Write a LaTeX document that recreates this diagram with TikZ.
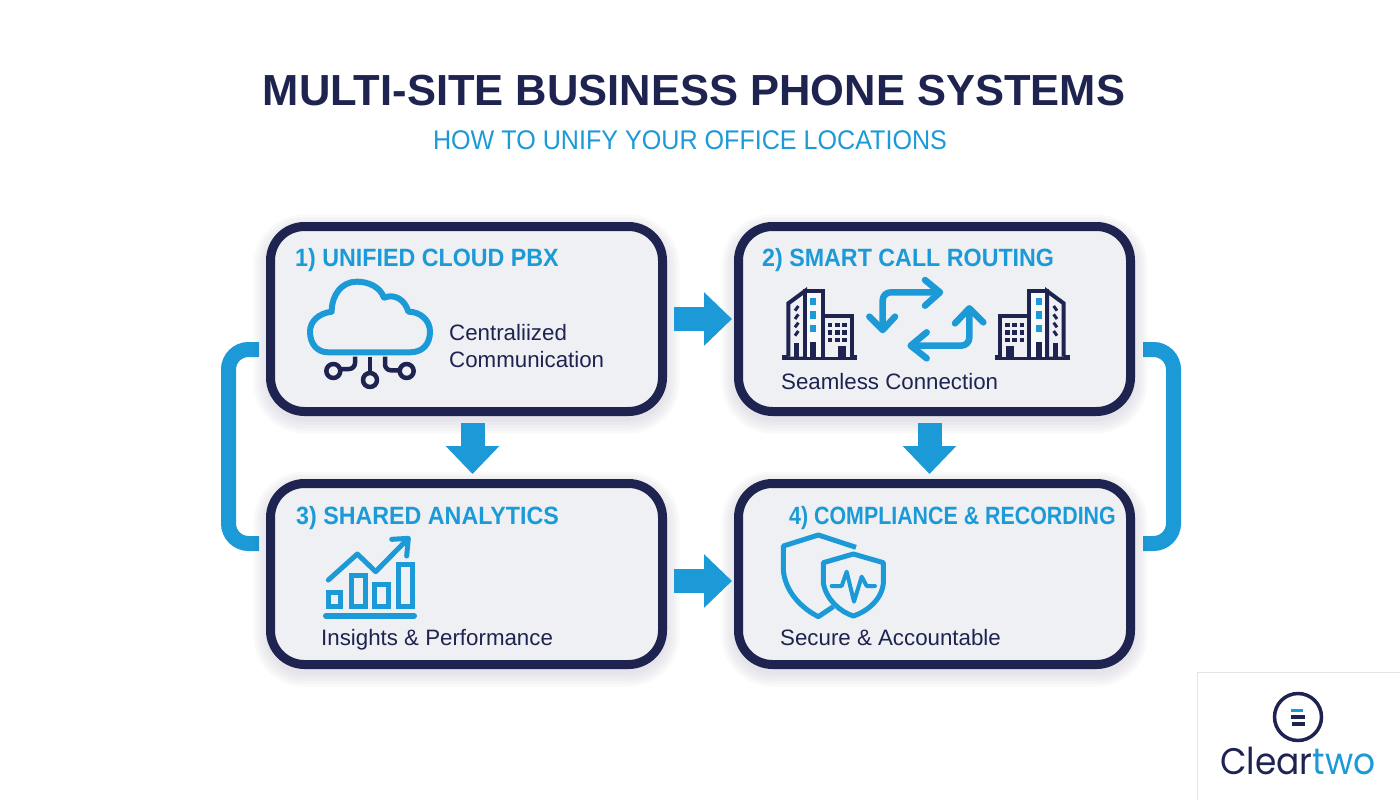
\documentclass[tikz,border=0pt]{standalone}
\usepackage{fontspec}
\setmainfont{Liberation Sans}
\newfontfamily\headfont[FakeStretch=0.93]{Liberation Sans}
\newfontfamily\tightfont[FakeStretch=0.855]{Liberation Sans}
\newfontfamily\logofont[FakeStretch=0.93]{Poppins}
\usetikzlibrary{arrows.meta}
\definecolor{navy}{HTML}{1F2350}
\definecolor{skyblue}{HTML}{1C9AD8}
\definecolor{panelgrey}{HTML}{EEF0F3}
\tikzstyle{glow} = [preaction={draw=navy, draw opacity=.022, line width=#1, transform canvas={yshift=-5pt}}]
\tikzstyle{panel} = [rectangle, rounded corners=34pt, minimum width=392pt, minimum height=185pt, draw=navy, line width=9pt, fill=panelgrey, glow=34pt, glow=28pt, glow=22pt, glow=16pt, glow=10pt]
\tikzstyle{heading} = [anchor=base west, inner sep=0pt, text=skyblue, font=\headfont\bfseries\fontsize{25}{30}\selectfont]
\tikzstyle{caption} = [anchor=base west, inner sep=0pt, text=navy, font=\fontsize{22.3}{27}\selectfont]
\tikzstyle{arrow} = [-{Triangle[length=28pt, width=52pt]}, draw=skyblue, line width=24pt]
\tikzstyle{bracket} = [draw=skyblue, line width=15pt, rounded corners=20pt]
\tikzstyle{iconblue} = [draw=skyblue, line width=4.5pt, line join=round, line cap=round]
\tikzstyle{iconnavy} = [draw=navy, line width=4.5pt, line join=round]
\newcommand{\officeblock}{
	\draw [navy, line width=4.5pt] (155,428) -- (380,428);
	\draw [navy, line width=4pt, fill=panelgrey] (175,425) -- (175,265) -- (225,228) -- (225,425);
	\draw [navy, line width=4pt, fill=white!60!panelgrey] (225,425) -- (225,228) -- (280,228) -- (280,425);
	\draw [navy, line width=4pt, fill=panelgrey] (280,425) -- (280,304) -- (366,304) -- (366,425);
	\foreach \ypos in {260,300,340}
		\fill [skyblue] (239,\ypos-11) rectangle (257,\ypos+11);
	\foreach \xpos in {300,322,343}
		\foreach \ypos in {330,352,375}
			\fill [navy] (\xpos-7,\ypos-7) rectangle (\xpos+7,\ypos+7);
	\foreach \ypos in {280,305,330,355}
		\draw [navy, line width=3pt] (195,\ypos+7) -- (205,\ypos-7);
	\fill [navy] (240,380) rectangle (258,425);
	\fill [navy] (325,392) rectangle (347,425);
	\fill [navy] (192,385) rectangle (206,425);
}
\begin{document}
\begin{tikzpicture}[x=1pt, y=-1pt]
	\useasboundingbox (0,0) rectangle (1400,800);
	\fill [white] (0,0) rectangle (1400,800);

	\node (title) [anchor=base, text=navy, font=\bfseries\fontsize{43.5}{50}\selectfont] at (694,106) {MULTI-SITE BUSINESS PHONE SYSTEMS};
	\node (subtitle) [anchor=base, text=skyblue, font=\headfont\fontsize{27}{32}\selectfont] at (690,149) {HOW TO UNIFY YOUR OFFICE LOCATIONS};

	% side links go under the panels
	\coordinate (left1) at (259,349.5);
	\coordinate (left3) at (259,543.5);
	\coordinate (right2) at (1143,349.5);
	\coordinate (right4) at (1143,543.5);
	\draw [bracket] (left1) -- (228.5,349.5) -- (228.5,543.5) -- (left3);
	\draw [bracket] (right2) -- (1173.5,349.5) -- (1173.5,543.5) -- (right4);

	\node (box1) [panel] at (466.5,319) {};
	\node (box2) [panel, right of=box1, node distance=468pt] {};
	\node (box3) [panel, below of=box1, node distance=255pt, minimum height=181pt] {};
	\node (box4) [panel, right of=box3, node distance=468pt, minimum height=181pt] {};

	\draw [arrow, shorten >=2pt, shorten <=7pt] (box1.east) -- (box2.west);
	\draw [arrow, shorten >=2pt, shorten <=7pt] ([yshift=-7pt]box3.east) -- ([yshift=-7pt]box4.west);
	\draw [arrow, shorten >=5pt, shorten <=7pt] ([xshift=6pt]box1.south) -- ([xshift=6pt]box3.north);
	\draw [arrow, shorten >=5pt, shorten <=7pt] ([xshift=-5pt]box2.south) -- ([xshift=-5pt]box4.north);

	\node (head1) [heading] at (295,266) {1) UNIFIED CLOUD PBX};
	\node (head2) [heading] at (762,266) {2) SMART CALL ROUTING};
	\node (head3) [heading] at (296,524) {3) SHARED ANALYTICS};
	\node (head4) [heading, font=\tightfont\bfseries\fontsize{25}{30}\selectfont] at (789,524) {4) COMPLIANCE \& RECORDING};
	\node (text1) [caption, align=left] at (449,367) {Centraliized\\Communication};
	\node (text2) [caption] at (781,389) {Seamless Connection};
	\node (text3) [caption] at (321,645) {Insights \& Performance};
	\node (text4) [caption] at (780,645) {Secure \& Accountable};

	% cloud icon
	\begin{scope}[shift={(260,215)}, scale=1/3]
		\draw [iconblue, line width=6pt] (205,412) -- (450,412) .. controls (490,412) and (510,385) .. (510,350) .. controls (510,315) and (480,290) .. (445,290) .. controls (435,255) and (405,235) .. (372,248) .. controls (360,215) and (325,200) .. (290,200) .. controls (245,200) and (215,240) .. (215,290) .. controls (175,295) and (150,320) .. (150,350) .. controls (150,385) and (170,412) .. (205,412) -- cycle;
		\draw [iconnavy, rounded corners=6pt] (285,425) -- (285,462) -- (240,462);
		\draw [iconnavy] (330,425) -- (330,472);
		\draw [iconnavy, rounded corners=6pt] (375,425) -- (375,466) -- (420,466);
		\draw [iconnavy] (220,468) circle (21);
		\draw [iconnavy] (330,495) circle (21);
		\draw [iconnavy] (440,468) circle (21);
	\end{scope}

	% routing icon
	\begin{scope}[shift={(730,215)}, scale=1/3]
		\officeblock
		\begin{scope}[shift={(1176,0)}, xscale=-1]
			\officeblock
		\end{scope}
		\draw [iconblue, line width=6.5pt, rounded corners=8pt] (458,340) -- (458,232) -- (625,232);
		\draw [iconblue, line width=6.5pt] (585,195) -- (630,232) -- (585,272);
		\draw [iconblue, line width=6.5pt] (418,305) -- (458,345) -- (495,305);
		\draw [iconblue, line width=6.5pt, rounded corners=8pt] (718,285) -- (718,392) -- (548,392);
		\draw [iconblue, line width=6.5pt] (590,352) -- (542,392) -- (590,430);
		\draw [iconblue, line width=6.5pt] (675,325) -- (718,280) -- (760,322);
	\end{scope}

	% chart icon
	\begin{scope}[shift={(260,470)}, scale=1/3]
		\draw [iconblue, line width=6pt] (198,437) -- (462,437);
		\draw [iconblue, line join=miter, line width=5pt] (205,367) rectangle (240,410);
		\draw [iconblue, line join=miter, line width=5pt] (274,315) rectangle (316,410);
		\draw [iconblue, line join=miter, line width=5pt] (344,342) rectangle (386,410);
		\draw [iconblue, line join=miter, line width=5pt] (416,282) rectangle (456,410);
		\draw [iconblue, line width=5pt] (205,330) -- (292,252) -- (347,305) -- (440,210);
		\draw [iconblue, line width=5pt] (395,208) -- (445,205) -- (440,258);
	\end{scope}

	% shield icon
	\begin{scope}[shift={(730,470)}, scale=1/3]
		\draw [iconblue, line width=5pt, line cap=butt] (378,232) -- (265,195) -- (160,228) -- (160,300) .. controls (165,365) and (215,415) .. (265,440) -- (310,410);
		\draw [iconblue, line width=5pt] (370,252) -- (280,278) -- (280,340) .. controls (290,390) and (330,425) .. (370,438) .. controls (410,425) and (455,390) .. (460,340) -- (460,278) -- cycle;
		\draw [iconblue, line width=4pt] (305,348) -- (335,348) -- (350,305) -- (372,395) -- (395,320) -- (410,348) -- (435,348);
	\end{scope}

	% logo corner
	\node (logobox) [anchor=north west, inner sep=0pt, minimum width=210pt, minimum height=135pt, draw=black!10, fill=white] at (1197,672) {};
	\node (logoring) [circle, draw=navy, line width=3.5pt, minimum size=47pt, inner sep=0pt] at (1298,717) {};
	\draw [skyblue, line width=3.5pt] (1291,710.5) -- (1303,710.5);
	\draw [navy, line width=3.5pt] (1291,717) -- (1305,717);
	\draw [navy, line width=3.5pt] (1292,724) -- (1305,724);
	\node (logoname) [anchor=base west, inner sep=0pt, text=navy, font=\logofont\fontsize{37}{40}\selectfont] at (1220,774) {Clear\textcolor{skyblue}{two}};
\end{tikzpicture}
\end{document}
